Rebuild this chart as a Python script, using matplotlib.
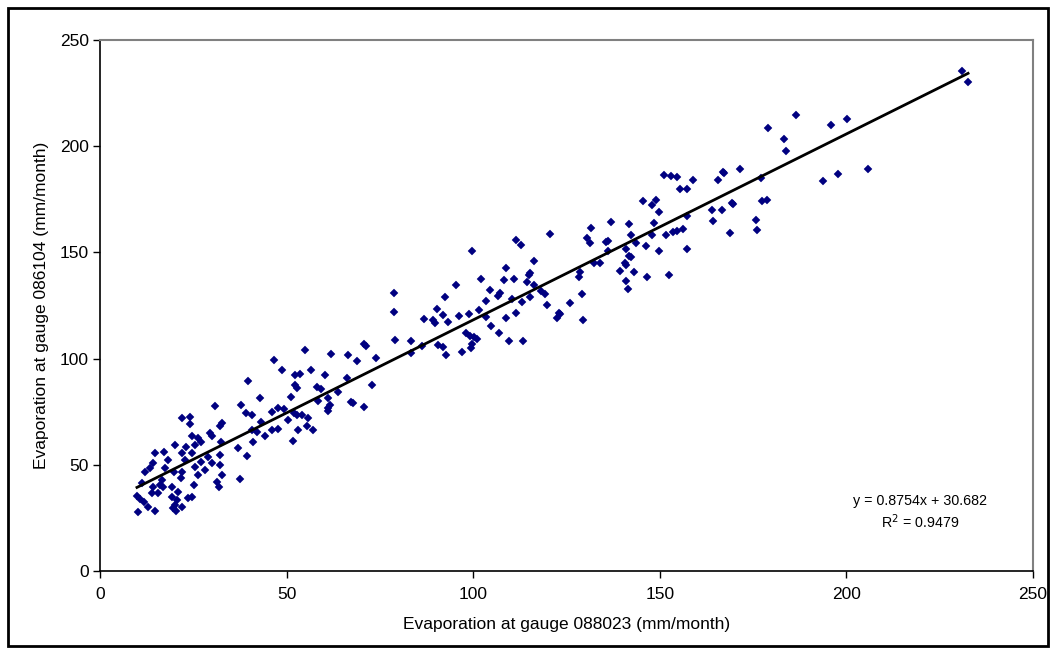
import matplotlib
matplotlib.use("Agg")
import matplotlib.pyplot as plt
from matplotlib.patches import Rectangle
import numpy as np

plt.rcParams['font.family'] = ['Liberation Sans', 'DejaVu Sans']

# Monthly evaporation, gauge 088023 (x) vs gauge 086104 (y), mm/month
x_088023 = [
    30.8, 37.8, 39.1, 40.7, 22.0, 24.1, 24.1, 32.7, 32.2, 24.6, 26.3, 27.1, 29.5, 29.9, 32.4,
    20.1, 23.0, 25.5, 14.7, 17.1, 22.0, 24.6, 37.0, 39.4, 32.1, 28.9, 18.2, 22.8, 27.1, 30.0,
    14.2, 13.4, 12.1, 17.4, 19.8, 22.0, 25.5, 28.1, 32.1, 32.7, 26.3, 21.7, 16.6, 11.3, 31.3,
    31.9, 37.5, 16.1, 14.2, 17.0, 19.3, 25.2, 13.9, 15.5, 20.9, 24.6, 23.5, 9.9, 10.7, 11.8,
    12.9, 19.3, 20.6, 20.1, 19.6, 22.0, 10.2, 14.7, 20.4,
    54.9, 61.9, 46.6, 48.8, 52.2, 53.6, 56.5, 60.3, 39.6, 52.2, 52.7, 58.1, 59.2, 42.9, 51.2,
    58.4, 61.2, 61.2, 61.6, 46.1, 47.7, 49.3, 50.4, 52.1, 52.7, 54.0, 55.7, 55.5, 57.1, 47.7,
    46.1, 53.0, 51.7, 43.1, 40.6, 42.0, 44.2, 41.1,
    78.8, 78.8, 79.0, 66.5, 70.8, 71.4, 68.8, 73.9, 66.2, 73.0, 63.8, 67.2, 67.7, 70.8, 61.2,
    120.7, 111.4, 112.7, 99.8, 116.3, 108.9, 115.3, 115.0, 102.0, 108.2, 111.0, 114.5, 95.4, 116.3,
    104.5, 107.2, 106.7, 118.3, 119.2, 92.4, 103.4, 110.5, 113.0, 115.2, 119.9, 90.2, 101.5, 92.0,
    86.8, 89.1, 89.7, 93.3, 96.3, 98.8, 103.4, 108.9, 111.4, 123.1, 122.5, 104.9, 107.0, 98.2,
    99.1, 100.9, 100.2, 99.6, 99.3, 109.7, 113.4, 83.3, 86.4, 90.6, 92.0, 92.6, 97.1, 83.3,
    171.4, 166.9, 167.2, 165.5, 151.1, 153.1, 154.5, 158.9, 155.5, 157.2, 145.6, 149.1, 147.8,
    149.7, 169.3, 169.6, 163.9, 166.6, 164.3, 168.9, 157.2, 136.8, 141.8, 148.4, 131.6, 142.4,
    147.8, 151.6, 153.6, 154.5, 156.1, 130.5, 131.3, 135.6, 136.0, 143.6, 146.2, 140.9, 136.2,
    149.7, 157.4, 141.8, 142.2, 132.3, 134.1, 140.6, 140.9, 128.6, 128.4, 139.3, 143.1, 146.6,
    152.5, 140.9, 141.5, 129.2, 125.9, 123.2, 129.5,
    186.4, 178.9, 196.0, 200.2, 183.2, 183.9, 177.1, 193.8, 197.8, 205.8, 177.3, 178.7, 175.9,
    176.1, 231.1, 232.6,
]
y_086104 = [
    77.7, 78.2, 74.4, 73.4, 72.0, 72.5, 69.2, 69.7, 68.3, 63.6, 62.6, 60.7, 65.0, 63.6, 60.7,
    59.3, 58.4, 59.3, 55.6, 56.0, 55.6, 55.6, 57.9, 54.1, 54.6, 53.7, 52.3, 52.3, 51.3, 50.8,
    50.8, 48.5, 46.6, 48.5, 46.6, 46.6, 49.0, 47.6, 49.9, 45.2, 45.2, 43.8, 42.8, 41.4, 41.9,
    39.5, 43.3, 40.5, 39.5, 39.4, 39.5, 40.5, 36.7, 36.7, 37.2, 34.8, 34.2, 35.3, 33.9, 32.5,
    30.1, 34.8, 33.4, 31.1, 29.7, 30.1, 27.8, 28.2, 28.2,
    104.0, 102.2, 99.3, 94.6, 92.3, 92.7, 94.6, 92.3, 89.5, 87.6, 86.0, 86.6, 85.5, 81.5, 81.9,
    80.0, 81.3, 76.6, 78.2, 74.9, 76.7, 76.3, 71.1, 74.2, 73.4, 73.4, 72.0, 68.3, 66.4, 66.9,
    66.4, 66.4, 61.2, 70.2, 66.4, 65.6, 63.6, 60.9,
    131.0, 121.9, 108.8, 101.7, 106.9, 105.9, 99.0, 100.1, 91.0, 87.6, 84.4, 79.7, 79.0, 77.4, 75.5,
    158.5, 155.8, 153.5, 150.7, 145.9, 142.8, 140.2, 139.4, 137.3, 137.0, 137.3, 136.2, 134.7, 134.7,
    132.3, 131.1, 129.5, 131.6, 130.4, 128.9, 127.3, 127.9, 126.5, 129.1, 125.2, 123.5, 122.9, 120.5,
    118.6, 118.2, 116.6, 117.4, 120.1, 120.9, 119.4, 119.0, 121.7, 121.7, 119.0, 115.3, 111.9, 111.9,
    110.6, 109.1, 110.0, 106.7, 105.1, 108.3, 108.3, 108.3, 105.9, 106.4, 105.3, 101.7, 103.2, 102.5,
    189.3, 187.9, 187.4, 184.1, 186.4, 186.0, 185.3, 184.1, 179.8, 179.7, 174.2, 174.7, 172.3,
    169.2, 173.3, 172.9, 169.8, 170.1, 165.0, 159.0, 167.0, 164.2, 163.2, 164.0, 161.6, 158.2,
    158.2, 158.2, 159.8, 160.2, 161.0, 156.6, 154.3, 155.0, 155.5, 154.6, 153.0, 151.4, 150.8,
    150.8, 151.6, 148.3, 147.7, 145.2, 145.2, 145.2, 144.1, 140.9, 138.6, 141.4, 140.9, 138.3,
    139.4, 136.7, 132.8, 130.4, 126.0, 120.9, 118.2,
    214.7, 208.4, 210.0, 212.6, 203.2, 197.9, 184.9, 183.8, 186.9, 189.1, 174.4, 174.8, 165.1,
    160.5, 235.3, 230.0,
]

# Linear trendline shown on chart
slope = 0.8754
intercept = 30.682
r_squared = 0.9479

x_ticks = [0, 50, 100, 150, 200, 250]
y_ticks = [0, 50, 100, 150, 200, 250]

fig = plt.figure(figsize=(10.56, 6.52), dpi=100)
ax = fig.add_axes([100/1056, 81/652, 933/1056, 531/652])

ax.plot(x_088023, y_086104, linestyle='none', marker='D', markersize=4.4,
        markerfacecolor='#000080', markeredgecolor='#000080', markeredgewidth=0.3, zorder=3)

xl = np.array([min(x_088023), max(x_088023)])
ax.plot(xl, slope * xl + intercept, color='black', linewidth=2.0, zorder=4)

ax.set_xlim(0, 250)
ax.set_ylim(0, 250)
ax.set_xticks(x_ticks)
ax.set_yticks(y_ticks)
ax.tick_params(direction='out', length=5, width=1, labelsize=12.5, colors='black')
ax.tick_params(axis='x', pad=6.5)
ax.tick_params(axis='y', pad=3)

for side in ['top', 'right']:
    ax.spines[side].set_color('#808080')
    ax.spines[side].set_linewidth(1.5)
for side in ['left', 'bottom']:
    ax.spines[side].set_color('black')
    ax.spines[side].set_linewidth(1.2)

ax.set_xlabel('Evaporation at gauge 088023 (mm/month)', fontsize=12.5, labelpad=11)
ax.set_ylabel('Evaporation at gauge 086104 (mm/month)', fontsize=12.5, labelpad=8)

ax.text(219.7, 33.0, 'y = 0.8754x + 30.682', fontsize=10.3, ha='center', va='center')
ax.text(219.7, 23.3, 'R$^2$ = 0.9479', fontsize=10.3, ha='center', va='center')

fig.patches.append(Rectangle((8/1056, 6/652), 1040/1056, 638/652, transform=fig.transFigure,
                             fill=False, edgecolor='black', linewidth=2))

fig.savefig('out.png', dpi=100)
